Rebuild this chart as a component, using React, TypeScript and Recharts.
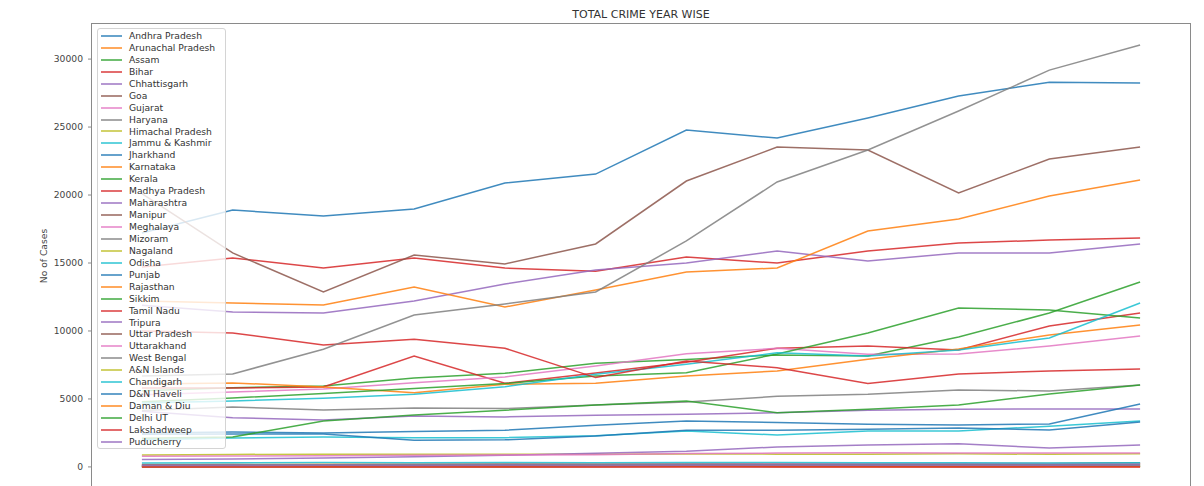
import { Legend, Line, LineChart, XAxis, YAxis } from "recharts";

const years = [2001, 2002, 2003, 2004, 2005, 2006, 2007, 2008, 2009, 2010, 2011, 2012];
const yTicks = [0, 5000, 10000, 15000, 20000, 25000, 30000];

const andhraPradesh = [17200, 18900, 18450, 18970, 20880, 21540, 24780, 24190, 25660, 27280, 28300, 28240];
const arunachalPradesh = [170, 180, 190, 200, 190, 210, 190, 210, 200, 220, 200, 230];
const assam = [5600, 5830, 5960, 6540, 6890, 7620, 7900, 8240, 8160, 9550, 11320, 13600];
const bihar = [5800, 5810, 5880, 8160, 6150, 6900, 7700, 8730, 8900, 8600, 10370, 11320];
const chhattisgarh = [4100, 3620, 3460, 3750, 3680, 3800, 3870, 3990, 4170, 4250, 4260, 4260];
const goa = [110, 130, 120, 150, 140, 160, 170, 190, 180, 200, 220, 220];
const gujarat = [5300, 5510, 5740, 6200, 6620, 7430, 8330, 8720, 8290, 8300, 8900, 9630];
const haryana = [4150, 4410, 4190, 4330, 4290, 4560, 4780, 5190, 5340, 5650, 5590, 6030];
const himachalPradesh = [880, 920, 930, 940, 930, 940, 950, 940, 930, 960, 930, 960];
const jammuKashmir = [2000, 2130, 2200, 2150, 2150, 2300, 2650, 2350, 2650, 2650, 3000, 3380];
const jharkhand = [2500, 2570, 2500, 2600, 2700, 3070, 3380, 3260, 3140, 3090, 3160, 4630];
const karnataka = [6100, 6180, 5880, 5460, 6080, 6150, 6690, 7060, 7920, 8670, 9710, 10440];
const kerala = [4800, 5070, 5400, 5770, 6130, 6690, 6930, 8310, 9850, 11690, 11540, 10960];
const madhyaPradesh = [14700, 15370, 14630, 15370, 14630, 14400, 15440, 15000, 15880, 16470, 16690, 16840];
const maharashtra = [11900, 11400, 11320, 12200, 13460, 14490, 15000, 15880, 15150, 15740, 15740, 16400];
const manipur = [150, 170, 160, 170, 190, 180, 200, 200, 210, 230, 250, 300];
const meghalaya = [130, 150, 160, 170, 180, 190, 200, 210, 230, 250, 240, 260];
const mizoram = [140, 150, 160, 160, 170, 160, 170, 160, 170, 170, 160, 170];
const nagaland = [30, 30, 30, 30, 30, 40, 40, 40, 30, 30, 40, 50];
const odisha = [4700, 4850, 5050, 5340, 5900, 6810, 7550, 8400, 8160, 8600, 9490, 12060];
const punjab = [2400, 2430, 2430, 1960, 1990, 2280, 2700, 2700, 2770, 2870, 2720, 3310];
const rajasthan = [12200, 12060, 11910, 13240, 11760, 13010, 14340, 14630, 17350, 18240, 19930, 21100];
const sikkim = [20, 30, 30, 30, 30, 40, 40, 40, 50, 40, 60, 70];
const tamilNadu = [10000, 9850, 8970, 9390, 8730, 6570, 7790, 7300, 6130, 6840, 7060, 7200];
const tripura = [550, 590, 650, 740, 850, 1000, 1150, 1470, 1620, 1700, 1400, 1620];
const uttarPradesh = [20100, 15740, 12870, 15590, 14930, 16400, 21030, 23530, 23310, 20150, 22650, 23530];
const uttarakhand = [780, 800, 820, 850, 870, 900, 980, 1020, 1040, 1030, 1030, 1030];
const westBengal = [6690, 6840, 8650, 11180, 11990, 12870, 16620, 20960, 23310, 26180, 29190, 31030];
const anIslands = [60, 60, 70, 60, 70, 80, 90, 80, 70, 80, 90, 90];
const chandigarh = [280, 300, 320, 300, 330, 300, 320, 330, 300, 300, 280, 300];
const dnHaveli = [30, 30, 30, 40, 30, 30, 40, 30, 40, 30, 40, 40];
const damanDiu = [20, 20, 20, 20, 20, 20, 30, 20, 20, 20, 20, 20];
const delhiUT = [2100, 2200, 3380, 3820, 4170, 4560, 4850, 3990, 4240, 4550, 5370, 6030];
const lakshadweep = [0, 2, 0, 2, 0, 1, 1, 1, 2, 0, 1, 1];
const puducherry = [110, 110, 120, 110, 120, 110, 120, 130, 120, 130, 130, 140];

// matplotlib default colour cycle
const palette = [
  "#1f77b4", "#ff7f0e", "#2ca02c", "#d62728", "#9467bd",
  "#8c564b", "#e377c2", "#7f7f7f", "#bcbd22", "#17becf"
];

const series = [
  { name: "Andhra Pradesh", values: andhraPradesh },
  { name: "Arunachal Pradesh", values: arunachalPradesh },
  { name: "Assam", values: assam },
  { name: "Bihar", values: bihar },
  { name: "Chhattisgarh", values: chhattisgarh },
  { name: "Goa", values: goa },
  { name: "Gujarat", values: gujarat },
  { name: "Haryana", values: haryana },
  { name: "Himachal Pradesh", values: himachalPradesh },
  { name: "Jammu & Kashmir", values: jammuKashmir },
  { name: "Jharkhand", values: jharkhand },
  { name: "Karnataka", values: karnataka },
  { name: "Kerala", values: kerala },
  { name: "Madhya Pradesh", values: madhyaPradesh },
  { name: "Maharashtra", values: maharashtra },
  { name: "Manipur", values: manipur },
  { name: "Meghalaya", values: meghalaya },
  { name: "Mizoram", values: mizoram },
  { name: "Nagaland", values: nagaland },
  { name: "Odisha", values: odisha },
  { name: "Punjab", values: punjab },
  { name: "Rajasthan", values: rajasthan },
  { name: "Sikkim", values: sikkim },
  { name: "Tamil Nadu", values: tamilNadu },
  { name: "Tripura", values: tripura },
  { name: "Uttar Pradesh", values: uttarPradesh },
  { name: "Uttarakhand", values: uttarakhand },
  { name: "West Bengal", values: westBengal },
  { name: "A&N Islands", values: anIslands },
  { name: "Chandigarh", values: chandigarh },
  { name: "D&N Haveli", values: dnHaveli },
  { name: "Daman & Diu", values: damanDiu },
  { name: "Delhi UT", values: delhiUT },
  { name: "Lakshadweep", values: lakshadweep },
  { name: "Puducherry", values: puducherry }
];

const data = years.map((year, i) => {
  const row: Record<string, number> = { year };
  series.forEach((s, k) => {
    row["s" + k] = s.values[i];
  });
  return row;
});

const FONT = "'DejaVu Sans', Verdana, sans-serif";
const FRAME = "#8a8a8a";
const X_DOMAIN = [2000.45, 2012.55];
const Y_DOMAIN = [-1551, 32581];

function LegendBox() {
  return (
    <div
      style={{
        width: 127,
        height: 418,
        paddingTop: 1,
        background: "rgba(255,255,255,0.8)",
        border: "1px solid #d4d4d4",
        borderRadius: 3,
        fontFamily: FONT,
        fontSize: 9.2,
        color: "#333",
        boxSizing: "content-box"
      }}
    >
      {series.map((s, k) => (
        <div
          key={s.name}
          style={{ height: 11.94, lineHeight: "11.94px", display: "flex", alignItems: "center", whiteSpace: "nowrap" }}
        >
          <svg width={31} height={6} style={{ flexShrink: 0, display: "block" }}>
            <line x1={3} y1={3} x2={24} y2={3} stroke={palette[k % 10]} strokeWidth={1.6} strokeOpacity={0.85} />
          </svg>
          <span>{s.name}</span>
        </div>
      ))}
    </div>
  );
}

export default function App() {
  return (
    <div
      style={{
        position: "fixed",
        left: 0,
        top: 0,
        width: 1204,
        height: 486,
        overflow: "hidden",
        background: "#fff",
        fontFamily: FONT
      }}
    >
      <div
        style={{
          position: "absolute",
          left: 441,
          width: 400,
          top: 8,
          textAlign: "center",
          fontSize: 11,
          color: "#333",
          lineHeight: "14px"
        }}
      >
        TOTAL CRIME YEAR WISE
      </div>
      <LineChart width={1204} height={520} data={data} margin={{ top: 24, right: 14, bottom: 2, left: 0 }}>
        <XAxis
          dataKey="year"
          type="number"
          domain={X_DOMAIN}
          allowDataOverflow
          ticks={years}
          height={30}
          axisLine={false}
          tickLine={false}
          tick={false}
        />
        <YAxis
          type="number"
          domain={Y_DOMAIN}
          allowDataOverflow
          ticks={yTicks}
          width={92}
          axisLine={false}
          stroke={FRAME}
          tickSize={4}
          tickMargin={5}
          tick={{ fontSize: 9.2, fill: "#444", fontFamily: FONT }}
          label={{
            value: "No of Cases",
            angle: -90,
            position: "center",
            dx: -2,
            style: { fontSize: 9.2, fill: "#444", fontFamily: FONT }
          }}
        />
        {series.map((s, k) => (
          <Line
            key={s.name}
            name={s.name}
            dataKey={"s" + k}
            type="linear"
            stroke={palette[k % 10]}
            strokeWidth={1.5}
            strokeOpacity={0.85}
            dot={false}
            activeDot={false}
            isAnimationActive={false}
          />
        ))}
        <Legend
          layout="vertical"
          align="center"
          verticalAlign="middle"
          content={() => <LegendBox />}
          wrapperStyle={{ left: 97, top: 28, width: 129, height: 420 }}
        />
      </LineChart>
      {/* axes frame (all four spines) */}
      <div
        style={{
          position: "absolute",
          left: 91,
          top: 23,
          width: 1098,
          height: 464,
          border: `1px solid ${FRAME}`,
          pointerEvents: "none"
        }}
      />
    </div>
  );
}
